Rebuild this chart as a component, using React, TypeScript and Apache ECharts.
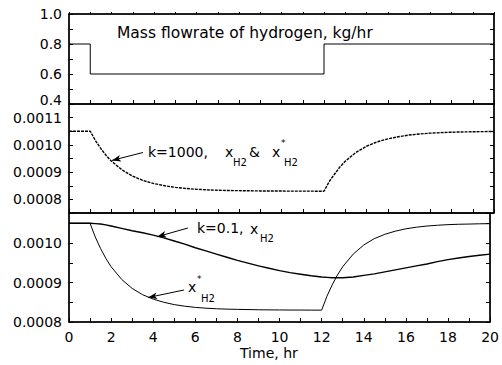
import React, { useEffect, useRef } from "react";
import * as echarts from "echarts";

// Hydrogen mass flowrate (kg/hr) step input
const flowTimes = [0, 1, 12, 20];
const flowRates = [0.8, 0.6, 0.8, 0.8];

// Common time base (hr)
const times = [0, 0.5, 1, 1.25, 1.5, 1.75, 2, 2.5, 3, 3.5, 4, 4.5, 5, 5.5, 6, 6.5, 7, 7.5, 8, 8.5, 9, 9.5, 10, 10.5, 11, 11.5, 12, 12.25, 12.5, 12.75, 13, 13.5, 14, 14.5, 15, 15.5, 16, 16.5, 17, 17.5, 18, 18.5, 19, 19.5, 20];

// k=1000: x_H2 & x*_H2 (middle panel)
const k1000 = [0.001050, 0.001050, 0.001050, 0.001015, 0.000986, 0.000961, 0.000940, 0.000908, 0.000885, 0.000869, 0.000858, 0.000850, 0.000844, 0.000840, 0.000837, 0.000835, 0.0008335, 0.0008326, 0.000832, 0.0008315, 0.000831, 0.0008307, 0.0008305, 0.0008303, 0.0008302, 0.0008301, 0.000830, 0.000866, 0.000893, 0.000919, 0.000940, 0.000972, 0.000995, 0.001011, 0.001022, 0.001030, 0.001036, 0.001040, 0.001043, 0.001045, 0.0010465, 0.0010475, 0.001048, 0.0010487, 0.001049];

// k=0.1: x_H2 (bottom panel)
const k01 = [0.001050, 0.001050, 0.001050, 0.001049, 0.001048, 0.001046, 0.001043, 0.001037, 0.001031, 0.001026, 0.001020, 0.001013, 0.001005, 0.000997, 0.000988, 0.000980, 0.000972, 0.000964, 0.000956, 0.000949, 0.000942, 0.000936, 0.000930, 0.000925, 0.000921, 0.000917, 0.000914, 0.000913, 0.000912, 0.000912, 0.000912, 0.000914, 0.000918, 0.000922, 0.000927, 0.000932, 0.000937, 0.000942, 0.000947, 0.000953, 0.000958, 0.000962, 0.000966, 0.000969, 0.000972];

// k=0.1: x*_H2 (bottom panel)
const xStar = [0.001050, 0.001050, 0.001050, 0.001015, 0.000986, 0.000961, 0.000940, 0.000908, 0.000885, 0.000869, 0.000858, 0.000850, 0.000844, 0.000840, 0.000837, 0.000835, 0.0008335, 0.0008326, 0.000832, 0.0008315, 0.000831, 0.0008307, 0.0008305, 0.0008303, 0.0008302, 0.0008301, 0.000830, 0.000865, 0.000894, 0.000919, 0.000940, 0.000972, 0.000995, 0.001011, 0.001022, 0.001030, 0.001036, 0.001040, 0.001043, 0.001045, 0.0010465, 0.0010475, 0.001048, 0.0010487, 0.001049];

// Annotation arrows (data coordinates: [from], [to])
const arrowK1000 = [[3.48, 0.000972], [2.02, 0.000943]];
const arrowK01 = [[5.65, 0.001038], [4.19, 0.001016]];
const arrowXStar = [[5.46, 0.000881], [3.76, 0.000862]];

const FONT = "DejaVu Sans";

const pair = (a: number[], b: number[]) => a.map((v, i) => [v, b[i]]);

const arrowLine = (a: number[][]) => ({
  silent: true,
  symbol: ["none", "arrow"],
  symbolSize: [5, 9],
  label: { show: false },
  lineStyle: { color: "#000", width: 1, type: "solid" },
  emphasis: { disabled: true },
  data: [[{ coord: a[0] }, { coord: a[1] }]],
});

export default function App() {
  const ref = useRef<HTMLDivElement>(null);
  useEffect(() => {
    if (!ref.current) return;
    const chart = echarts.init(ref.current, null, { renderer: "svg" });
    const L = 69, R = 8;
    const grids = [
      { left: L, right: R, top: 14, height: 90 },
      { left: L, right: R, top: 104, height: 109 },
      { left: L, right: R, top: 213, height: 109 },
    ].map((g) => ({ ...g, show: true, borderColor: "#000", borderWidth: 1, backgroundColor: "transparent" }));

    const xAx = (gi: number, labels: boolean) => ({
      type: "value",
      gridIndex: gi,
      min: 0,
      max: 20,
      interval: 1,
      position: "bottom",
      axisLine: { show: true, onZero: false, lineStyle: { color: "#000", width: 1.5 } },
      axisTick: { show: true, inside: true, length: 4, lineStyle: { color: "#000" } },
      splitLine: { show: false },
      axisLabel: {
        show: labels,
        margin: 8,
        color: "#000",
        fontFamily: FONT,
        fontSize: 14,
        formatter: (v: number) => (Math.round(v) % 2 === 0 ? String(Math.round(v)) : ""),
      },
    });

    const labFmt = (unit: number, every: number, digits: number, lift?: number) => (v: number) => {
      const n = Math.round(v / unit);
      if (Math.abs(v / unit - n) > 1e-6) return "";
      if (n % every !== 0) return "";
      const s = v.toFixed(digits);
      return lift !== undefined && Math.abs(v - lift) < 1e-9 ? s + "\n{s| }" : s;
    };

    const yAx = (gi: number, min: number, max: number, interval: number, fmt: any, right: boolean) => ({
      type: "value",
      gridIndex: gi,
      min,
      max,
      interval,
      position: right ? "right" : "left",
      axisLine: { show: true, onZero: false, lineStyle: { color: "#000", width: 1.5 } },
      axisTick: { show: true, inside: true, length: 4, lineStyle: { color: "#000" } },
      splitLine: { show: false },
      axisLabel: {
        show: !right,
        margin: 7,
        color: "#000",
        fontFamily: FONT,
        fontSize: 14,
        lineHeight: 12,
        rich: { s: { fontSize: 6, lineHeight: 8 } },
        formatter: fmt,
      },
    });

    const txt = (text: string, x: number, y: number, size = 14) => ({
      type: "text",
      x,
      y,
      silent: true,
      style: { text, fill: "#000", font: `${size}px "${FONT}"`, verticalAlign: "middle", align: "left" },
    });

    const f1 = labFmt(0.1, 2, 1, 0.4);
    const f23 = labFmt(0.00005, 2, 4);

    const option: any = {
      animation: false,
      backgroundColor: "#fff",
      grid: grids,
      xAxis: [
        xAx(0, false),
        xAx(1, false),
        xAx(2, true),
        {
          type: "value",
          gridIndex: 0,
          min: 0,
          max: 20,
          interval: 1,
          position: "top",
          axisLine: { show: true, onZero: false, lineStyle: { color: "#000", width: 1.5 } },
          axisTick: { show: true, inside: false, length: 2, lineStyle: { color: "#000" } },
          axisLabel: { show: false },
          splitLine: { show: false },
        },
      ],
      yAxis: [
        yAx(0, 0.4, 1.0, 0.1, f1, false),
        yAx(1, 0.00075, 0.00115, 0.00005, f23, false),
        yAx(2, 0.0008, 0.001076, 0.00005, f23, false),
        yAx(0, 0.4, 1.0, 0.1, f1, true),
        yAx(1, 0.00075, 0.00115, 0.00005, f23, true),
        yAx(2, 0.0008, 0.001076, 0.00005, f23, true),
      ],
      series: [
        {
          type: "line",
          xAxisIndex: 0,
          yAxisIndex: 0,
          step: "end",
          showSymbol: false,
          symbol: "none",
          lineStyle: { color: "#000", width: 1 },
          data: pair(flowTimes, flowRates),
        },
        {
          type: "line",
          xAxisIndex: 1,
          yAxisIndex: 1,
          showSymbol: false,
          symbol: "none",
          lineStyle: { color: "#000", width: 1.4, type: [3, 1] },
          data: pair(times, k1000),
          markLine: arrowLine(arrowK1000),
        },
        {
          type: "line",
          xAxisIndex: 2,
          yAxisIndex: 2,
          showSymbol: false,
          symbol: "none",
          lineStyle: { color: "#000", width: 1.4 },
          data: pair(times, k01),
          markLine: arrowLine(arrowK01),
        },
        {
          type: "line",
          xAxisIndex: 2,
          yAxisIndex: 2,
          showSymbol: false,
          symbol: "none",
          lineStyle: { color: "#000", width: 1 },
          data: pair(times, xStar),
          markLine: arrowLine(arrowXStar),
        },
      ],
      graphic: [
        txt("Mass flowrate of hydrogen, kg/hr", 117, 33, 15.5),
        txt("k=1000,", 148, 152),
        txt("x", 225, 152),
        txt("H2", 233, 162, 10),
        txt("&", 249, 152),
        txt("x", 272, 152),
        txt("*", 281, 143, 9),
        txt("H2", 284, 162, 10),
        txt("k=0.1,", 197, 228),
        txt("x", 250, 229),
        txt("H2", 260, 238, 10),
        txt("x", 188, 287),
        txt("*", 197, 279, 9),
        txt("H2", 201, 298, 10),
        txt("Time, hr", 240, 353),
      ],
    };
    chart.setOption(option);
    return () => chart.dispose();
  }, []);
  return (
    <div
      ref={ref}
      style={{ position: "absolute", left: 0, top: 0, width: 502, height: 365, background: "#fff" }}
    />
  );
}
